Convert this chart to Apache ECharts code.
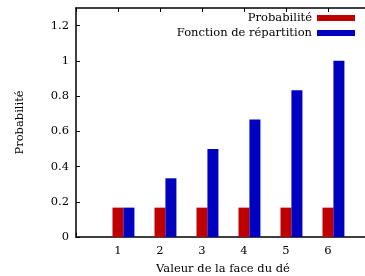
<!DOCTYPE html>
<html>
<head>
<meta charset="utf-8">
<script src="https://cdn.jsdelivr.net/npm/echarts@6/dist/echarts.min.js"></script>
<style>
  html, body { margin: 0; padding: 0; background: #fff; }
  #chart { width: 365px; height: 276px; }
</style>
</head>
<body>
<div id="chart"></div>
<script>
// valeurs du dé
var faces = [1, 2, 3, 4, 5, 6];
var probabilite = [0.1667, 0.1667, 0.1667, 0.1667, 0.1667, 0.1667];
var repartition = [0.1667, 0.3333, 0.5, 0.6667, 0.8333, 1];
var yTicks = ['0', '0.2', '0.4', '0.6', '0.8', '1', '1.2'];

var police = 'DejaVu Serif';
var taille = 11.5;
var decalage = 0.26; // décalage des barres bleues

var myChart = echarts.init(document.getElementById('chart'));
var option = {
    animation: false,
    textStyle: { fontFamily: police },
    legend: {
        orient: 'vertical',
        align: 'right',
        right: 10,
        top: 12,
        padding: 0,
        itemWidth: 38,
        itemHeight: 6,
        itemGap: 3,
        icon: 'rect',
        selectedMode: false,
        textStyle: { fontFamily: police, fontSize: taille, color: '#000' },
        data: ['Probabilité', 'Fonction de répartition']
    },
    grid: {
        left: 76,
        right: -5,
        top: 8,
        bottom: 39,
        outerBoundsMode: 'none'
    },
    xAxis: [
        {
            type: 'value',
            min: 0,
            max: 7,
            interval: 1,
            name: 'Valeur de la face du dé',
            nameLocation: 'middle',
            nameGap: 26,
            nameTextStyle: { fontFamily: police, fontSize: taille, color: '#000' },
            axisLine: { lineStyle: { color: '#000', width: 1.5 } },
            axisTick: { inside: true, length: 4, lineStyle: { color: '#000' } },
            axisLabel: {
                margin: 8,
                fontFamily: police,
                fontSize: taille,
                color: '#000',
                formatter: function (v) {
                    return faces.indexOf(v) >= 0 ? String(v) : '';
                }
            },
            splitLine: { show: false }
        },
        {
            // axe caché pour la fonction de répartition
            type: 'value',
            min: -decalage,
            max: 7 - decalage,
            show: false
        },
        {
            // bord supérieur avec graduations
            type: 'value',
            position: 'top',
            min: 0,
            max: 7,
            interval: 1,
            axisLine: { lineStyle: { color: '#000', width: 1.5 } },
            axisTick: { inside: true, length: 4, lineStyle: { color: '#000' } },
            axisLabel: { show: false },
            splitLine: { show: false }
        }
    ],
    yAxis: {
        type: 'value',
        min: 0,
        max: 1.3,
        interval: 0.2,
        name: 'Probabilité',
        nameLocation: 'middle',
        nameGap: 50,
        nameTextStyle: { fontFamily: police, fontSize: taille, color: '#000' },
        axisLine: { show: true, lineStyle: { color: '#000', width: 1.5 } },
        axisTick: { inside: true, length: 4, lineStyle: { color: '#000' } },
        axisLabel: {
            margin: 7,
            fontFamily: police,
            fontSize: taille,
            color: '#000',
            showMaxLabel: false,
            formatter: function (v) {
                var i = Math.round(v / 0.2);
                return Math.abs(v - i * 0.2) < 1e-6 && yTicks[i] ? yTicks[i] : '';
            }
        },
        splitLine: { show: false }
    },
    series: [
        {
            name: 'Probabilité',
            type: 'bar',
            xAxisIndex: 0,
            barWidth: 11,
            itemStyle: { color: '#c00000' },
            data: faces.map(function (f, i) { return [f, probabilite[i]]; })
        },
        {
            name: 'Fonction de répartition',
            type: 'bar',
            xAxisIndex: 1,
            barWidth: 11,
            itemStyle: { color: '#0000c0' },
            data: faces.map(function (f, i) { return [f, repartition[i]]; })
        }
    ]
};
myChart.setOption(option);
</script>
</body>
</html>
